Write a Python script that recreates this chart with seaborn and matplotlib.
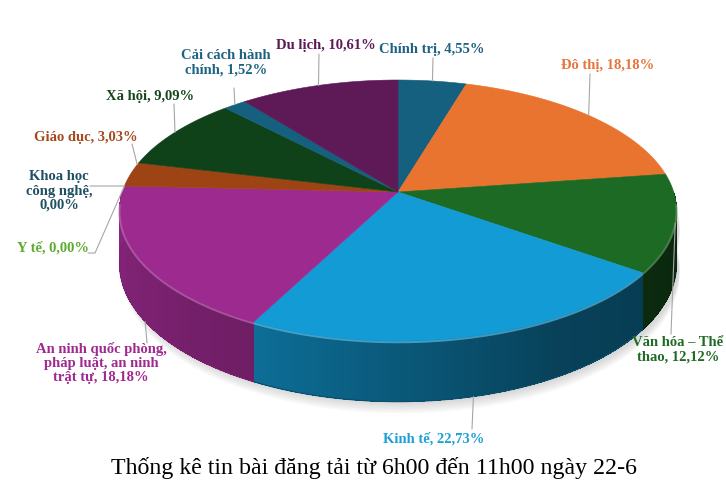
import numpy as np
import matplotlib
matplotlib.use("Agg")
import matplotlib.pyplot as plt
from matplotlib.patches import Polygon
from matplotlib.colors import to_rgb
import seaborn as sns

# data (clockwise from 12 o'clock)
categories = ['Chính trị', 'Đô thị', 'Văn hóa – Thể thao', 'Kinh tế',
              'An ninh quốc phòng, pháp luật, an ninh trật tự', 'Y tế',
              'Khoa học công nghệ', 'Giáo dục', 'Xã hội', 'Cải cách hành chính', 'Du lịch']
shares = [4.55, 18.18, 12.12, 22.73, 18.18, 0.00, 0.00, 3.03, 9.09, 1.52, 10.61]
label_fmt = ['Chính trị, {}', 'Đô thị, {}', 'Văn hóa – Thể\nthao, {}', 'Kinh tế, {}',
             'An ninh quốc phòng,\npháp luật, an ninh\ntrật tự, {}', 'Y tế, {}',
             'Khoa học\ncông nghệ,\n{}', 'Giáo dục, {}', 'Xã hội, {}',
             'Cải cách hành\nchính, {}', 'Du lịch, {}']
title = 'Thống kê tin bài đăng tải từ 6h00 đến 11h00 ngày 22-6'

# styles
slice_colors = ['#16607f', '#e8742f', '#1c6a24', '#129bd5', '#9d2a8f', '#5aa832',
                '#1f4e60', '#9e4313', '#10421a', '#16607f', '#5d1a56']
text_colors = ['#1f6382', '#e8743b', '#1f6b25', '#1ba0d8', '#a0298f', '#5eab32',
               '#1f4f62', '#a44a1d', '#17461d', '#1f6382', '#5d1a56']

# layout (pixels)
CX, CY, A, B, P, D = 398, 192, 275.7, 127.9, 0.142, 52
label_xy = [(432, 50), (608, 66), (678, 350), (434, 439), (101, 363), (53, 248),
            (59, 191), (86, 137), (150, 96), (226, 63), (326, 46)]
leader_from = [[(433, 58)], [(590, 74)], [(671, 334)], [(472, 429)], [(147, 343)],
               [(88, 253), (95, 253)], [(90, 186)], [(132, 144)], [(174, 104)],
               [(234, 88)], [(319, 54)]]
leader_frac = [0.5, 0.5, 0.5, 0.5, 0.47, 0.5, 0.5, 0.92, 0.5, 0.5, 0.5]
leader_drop = [False, False, False, True, True, False, False, False, False, False, False]


def proj(theta, drop=0.0):
    t = np.radians(theta)
    u, v = np.sin(t), np.cos(t)
    den = 1 + P * v
    return CX + A * u / den, CY - B * v / den + drop * D / den


def shade(c, f):
    r, g, b = to_rgb(c)
    return (r * f, g * f, b * f)


def lighten(c, f):
    r, g, b = to_rgb(c)
    return (r + (1 - r) * f, g + (1 - g) * f, b + (1 - b) * f)


sns.set_theme(style="white")
plt.rcParams['font.family'] = ['Liberation Serif', 'DejaVu Serif']

fig = plt.figure(figsize=(7.26, 4.9), dpi=100)
ax = fig.add_axes([0, 0, 1, 1])
ax.set_xlim(0, 726)
ax.set_ylim(490, 0)
ax.axis('off')

bounds = np.concatenate([[0], np.cumsum(shares)]) / sum(shares) * 360

# soft shadow under the pie
th = np.linspace(90, 270, 120)
for k in range(7):
    x, y = proj(th, 1.0)
    ax.fill(np.r_[x, x[::-1]] + 3, np.r_[y, y[::-1] - 40] + 2 + k * 1.6,
            color='#707070', alpha=0.04, lw=0, zorder=0)

# side walls (front half), thin overlapping strips for a smooth gradient
for i, c in enumerate(slice_colors):
    a0, a1 = max(bounds[i], 90), min(bounds[i + 1], 270)
    if a1 <= a0:
        continue
    th = np.linspace(a0, a1, max(int((a1 - a0) / 0.5), 2) + 1)
    for t0, t1 in zip(th[:-1], th[1:]):
        f = np.interp((t0 + t1) / 2, [90, 150, 205, 270], [0.36, 0.42, 0.7, 0.87])
        t1e = min(t1 + 0.4, a1)
        x0, y0 = proj(t0)
        x1, y1 = proj(t1e)
        x2, y2 = proj(t1e, 1.0)
        x3, y3 = proj(t0, 1.0)
        ax.add_patch(Polygon([(x0, y0), (x1, y1), (x2, y2), (x3, y3)], closed=True,
                             facecolor=shade(c, f), edgecolor='none',
                             antialiased=False, zorder=1))
    # smooth the outer bottom edge
    tt = np.linspace(a0, a1, 60)
    bx, by = proj(tt, 1.0)
    ax.plot(bx, by, color=shade(c, np.interp((a0 + a1) / 2, [90, 150, 205, 270],
                                              [0.36, 0.42, 0.7, 0.87])),
            lw=0.8, zorder=1)

# top faces
for i, c in enumerate(slice_colors):
    a0, a1 = bounds[i], bounds[i + 1]
    if a1 - a0 < 1e-6:
        continue
    th = np.linspace(a0, a1, max(int((a1 - a0) / 0.5), 2) + 1)
    x, y = proj(th)
    pts = [(CX, CY)] + list(zip(x, y))
    ax.add_patch(Polygon(pts, closed=True, facecolor=c, edgecolor=c, lw=0.4, zorder=2))
    # bevel highlight along the front rim
    b0, b1 = max(a0, 95), min(a1, 265)
    if b1 > b0:
        th = np.linspace(b0, b1, 80)
        x, y = proj(th)
        ax.plot(x, y + 1.2, color=lighten(c, 0.3), lw=1.4, alpha=0.7,
                solid_capstyle='butt', zorder=3)

# labels and leader lines
for i in range(len(shares)):
    pct = f'{shares[i]:.2f}%'.replace('.', ',')
    ax.text(label_xy[i][0], label_xy[i][1], label_fmt[i].format(pct),
            ha='center', va='center', fontsize=10.5, fontweight='bold',
            color=text_colors[i], linespacing=1.12, zorder=5)
    th = bounds[i] + leader_frac[i] * (bounds[i + 1] - bounds[i])
    ex, ey = proj(th, 1.0 if leader_drop[i] else 0.0)
    pts = leader_from[i] + [(ex, ey)]
    ax.plot([p[0] for p in pts], [p[1] for p in pts], color='#a6a6a6', lw=0.8, zorder=4)

ax.text(374, 468, title, ha='center', va='center', fontsize=17.2, color='black')

fig.savefig('out.png', dpi=100)
